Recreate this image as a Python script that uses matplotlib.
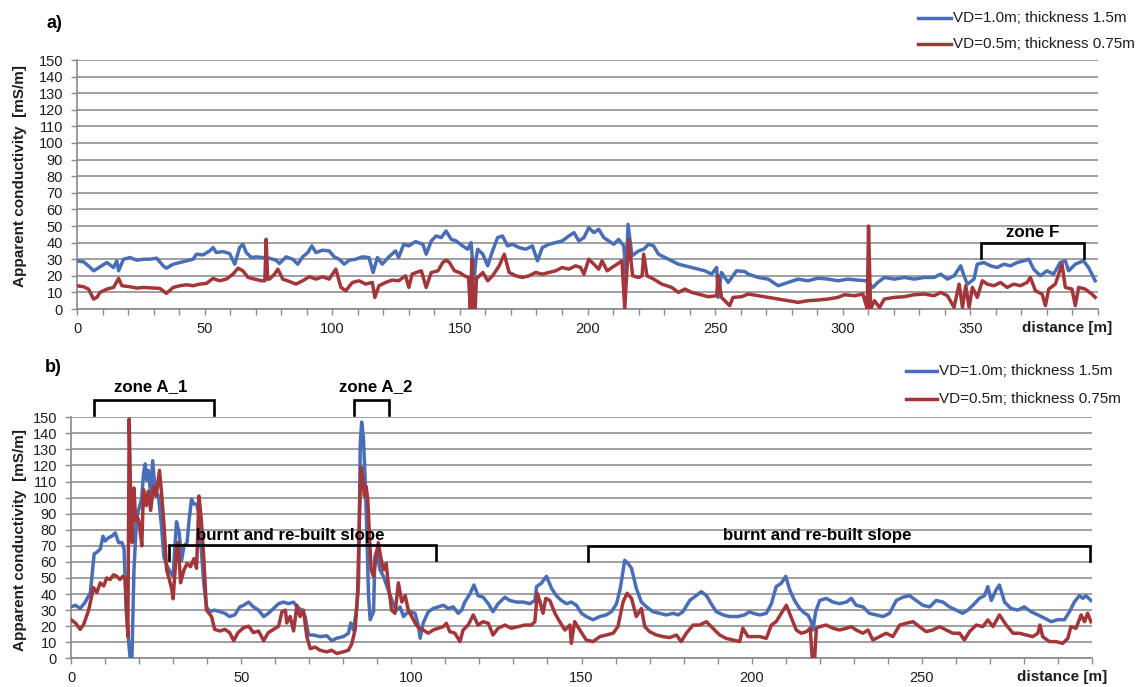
import matplotlib
matplotlib.use("Agg")
import matplotlib.pyplot as plt
from matplotlib.lines import Line2D

plt.rcParams['font.family'] = ['Liberation Sans', 'DejaVu Sans']

# ---------------- data ----------------
series_labels = ["VD=1.0m; thickness 1.5m", "VD=0.5m; thickness 0.75m"]
series_colors = ["#4A6EB6", "#A3363A"]

# panel a) distance [m] / apparent conductivity [mS/m]
a_blue_x = [0, 2.6, 5.2, 6.5, 9, 11.7, 14.3, 15.6, 16.3, 18.2, 20.8, 23.4, 26, 28.6, 31.2, 33.8, 35, 37.7,
            40.3, 43, 45.5, 46.8, 49.4, 52, 53.3, 54.6, 57.2, 59.8, 61.8, 63.7, 65, 66.3, 68.3, 70.2, 72.8,
            75.4, 78, 79.3, 81.9, 84.5, 86.5, 88.4, 90.4, 92, 93.6, 96.2, 98.8, 100.8, 102.7, 104.7, 106.6,
            109.2, 111.8, 114.4, 116, 117.7, 119.6, 122.2, 124.8, 126, 128, 130, 132.6, 135.5, 136.8, 138.8,
            140.7, 142.7, 144.6, 146.6, 148.5, 151.1, 153.1, 154.4, 155, 155.6, 156.3, 157, 159, 160.9, 162.8,
            164.8, 166.7, 168.7, 170.6, 173.2, 175.8, 178.4, 180.4, 182.3, 184.9, 187.5, 190.1, 192.7, 194.7,
            196.6, 198.6, 200.5, 202.5, 204.4, 206.4, 208.3, 210.3, 212.2, 214.2, 215.1, 215.9, 217.4, 220,
            222, 223.9, 225.9, 227.8, 230.4, 233, 235.6, 238.2, 240.8, 243.4, 246, 248.6, 250.6, 251.2, 252.5,
            255.1, 258.4, 261.6, 263, 266.9, 270.8, 274.7, 278.6, 282.5, 286.4, 290.3, 294.2, 298.1, 302,
            305.9, 309.2, 311.8, 313.7, 316.3, 320.2, 324.1, 328, 331.9, 335.8, 338.4, 341, 343.6, 346.2,
            347.5, 348.8, 351.4, 352.7, 355.3, 357.9, 360.5, 363.1, 365.7, 368.3, 370.9, 372.9, 374.8, 377.4,
            380, 382.6, 385.2, 387.2, 388.5, 391.1, 394.3, 396.3, 398.9]
a_blue_y = [29, 28.4, 25, 23, 25.4, 28, 25, 29, 23, 30, 31, 29.4, 30, 30, 30.6, 26, 24.6, 27,
            28, 29, 30, 33, 32.6, 35, 37, 34, 34.6, 33.4, 27, 37, 39, 34, 31, 31.4, 31,
            30.6, 29.4, 27.4, 31.4, 30, 27, 31.4, 34, 38, 34, 35.4, 35, 31.4, 30, 27, 29.4,
            30, 31.4, 31, 22, 31, 27, 31.4, 35, 31, 39, 38, 40.6, 39, 33, 41,
            44, 43, 47, 42, 41, 38, 36, 40, 28, 18, 30, 36, 33, 26, 35,
            43, 44, 38, 39, 37, 36, 38, 29, 37, 39, 40, 41, 44, 46,
            41, 43, 49, 46, 48, 43, 41, 39, 42, 38, 21, 51, 32, 35,
            36, 39, 38, 33, 31, 29, 27, 26, 25, 24, 23, 21, 25, 7, 22,
            16, 23, 22.6, 21, 19, 18, 14, 16, 18, 17, 18.6, 18, 17, 18,
            17.4, 17, 13, 16, 19, 18, 19, 18, 19, 19, 21, 18, 20, 26,
            20, 15, 18, 27, 28, 26, 25, 27, 26, 28, 29, 30, 24, 20,
            23, 21, 28, 29, 23, 27, 29, 25, 17]

a_red_x = [0, 2.6, 4.5, 6.5, 7.8, 9, 11.7, 14.3, 16.3, 17.6, 20.8, 23.4, 26, 29.9, 32.5, 35, 37.7, 40.3,
           43, 45.5, 48.1, 50.7, 53.3, 55.9, 58.5, 61.1, 63.1, 65, 67, 69.6, 72.2, 73.6, 74.1, 74.7, 75.4,
           77.4, 78.7, 80.6, 83.2, 85.8, 88.4, 91, 93.6, 96.2, 98.8, 101.4, 103.4, 105.3, 107.9, 110.5,
           113.1, 115.7, 116.7, 118.3, 120.9, 123.5, 126, 128.7, 130, 131.3, 132.9, 134.9, 136.8, 138.8,
           141.4, 143.3, 144.6, 145.9, 147.9, 149.8, 151.8, 153.4, 154.1, 154.7, 155.3, 156, 156.5, 157,
           159, 160.9, 162.8, 165.4, 167.4, 169.3, 171.9, 174.5, 177.1, 179.7, 182.3, 184.9, 187.5, 190.1,
           192.7, 195.3, 197.3, 198.6, 200.5, 202.5, 204.4, 205.7, 207.7, 209.6, 211.6, 213.5, 214.6,
           215.3, 216.1, 217.7, 220, 221.4, 222, 223.3, 225.9, 229.1, 233, 235.6, 238.2, 240.8, 243.4,
           247.3, 250.6, 251.2, 252.5, 255.7, 257, 260.3, 263, 266.9, 270.8, 274.7, 278.6, 282.5, 286.4,
           290.3, 294.2, 298.1, 300.7, 304.6, 307.9, 309.6, 310.1, 310.9, 312.4, 314.4, 316.3, 320.2,
           324.1, 328, 331.9, 335.8, 338.4, 341, 343.6, 345.6, 346.9, 348.2, 349.5, 350.8, 352.7, 354.7,
           356.6, 359.2, 361.8, 364.4, 367, 369.6, 372.2, 373.5, 375.5, 378.1, 379.4, 380.7, 383.3,
           385.9, 387.2, 389.8, 391.1, 392.4, 395, 397.6, 398.9]
a_red_y = [14, 13.4, 12, 6, 7, 10, 12, 13, 18.4, 14, 13.4, 12.6, 13, 12.6, 12.4, 9.4, 13, 14,
           14.6, 14, 15, 15.4, 18.4, 17, 18, 21, 24.6, 23, 19, 18, 17, 17, 42, 18, 18,
           21, 24, 18, 16.6, 15, 17, 19.4, 18, 19.4, 18, 24, 13, 11, 16, 17,
           15, 16, 7, 14, 16, 17.4, 17, 20, 13, 21, 22, 23, 13, 22,
           23, 28, 29.4, 28, 23, 22, 20, 19, 0, 30, 0, 0, 19, 19,
           22, 17, 20, 26, 33, 22, 20, 19, 20, 22, 21, 22, 23, 25,
           24, 26, 25, 21, 30, 27, 24, 29, 23, 25, 27, 29, 0,
           20, 42, 20, 19, 20, 33, 20, 18, 15, 13, 10, 12, 10, 9,
           7.4, 8, 20, 7, 2, 7, 7.4, 9, 8, 7, 6, 5, 4, 5,
           5.4, 6, 7, 8.6, 8, 9, 0, 50, 0, 5, 1, 6, 7,
           7.4, 8.6, 9, 8, 10, 8, 1, 15, 1, 14, 1, 13, 7, 17,
           15, 14, 16, 13, 15, 14, 16, 19, 11, 9, 2, 12, 15,
           27, 13, 12, 2, 13, 12, 9, 7]

# panel b)
b_blue_x = [0, 1.3, 2.7, 4.2, 5.7, 6.8, 7.6, 8.6, 9.4, 10, 11, 12, 13, 14, 15, 15.6, 16.2, 16.9, 17.4,
            17.9, 18.5, 19.3, 20.1, 20.8, 21.3, 21.8, 22.2, 22.7, 23.4, 24, 24.7, 25.7, 26.6, 27.3, 28.1,
            29.1, 30, 31, 31.8, 32.5, 33.2, 34.1, 34.7, 35.4, 36.1, 36.9, 37.6, 38.3, 39, 39.8, 40.8, 42.2,
            43.7, 45.2, 46.6, 48.1, 49.6, 50.7, 52.2, 53.6, 55.1, 56.6, 58, 59.5, 61, 62.4, 63.9, 65.4,
            66.4, 67.8, 68.8, 69.8, 71.2, 73.2, 75.2, 76.6, 78.1, 80, 81.5, 82.2, 83, 84, 84.5, 85, 85.4,
            85.9, 86.4, 86.9, 87.4, 87.9, 88.9, 89.3, 89.8, 90.8, 91.8, 92.8, 93.8, 94.7, 95.7, 96.7, 97.7,
            98.6, 99.6, 101.1, 102.1, 102.6, 103.5, 105, 106.4, 107.9, 109.4, 110.8, 112.3, 113.8, 114.8,
            115.7, 117.2, 118.4, 119.6, 121.1, 122.6, 124, 125.5, 127.5, 128.9, 130.9, 132.9, 134.8, 136.3,
            136.8, 138.2, 139.7, 141.2, 142.6, 144.1, 145.6, 147, 148.5, 150, 151.4, 153.4, 155.4, 157.3,
            158.8, 160.3, 161.4, 162.7, 163.7, 164.7, 166.1, 167.6, 169.1, 171, 173, 174.9, 176.9, 178.4,
            179.8, 181.8, 183.7, 185.2, 186.7, 188.1, 189.6, 191.6, 193.5, 196, 197.9, 199.4, 200.4, 202.4,
            204.3, 205.8, 207.2, 208.7, 210, 211.2, 212.6, 214.1, 215.6, 216.5, 217.5, 218, 218.8, 220,
            221.9, 223.9, 225.8, 227.8, 229.3, 230.7, 232.7, 234.6, 236.6, 238.6, 240.5, 242.5, 244.4,
            246.4, 248.3, 250.3, 252.3, 254.2, 256.2, 258.1, 260.1, 262, 263.5, 265, 266.9, 268.4, 269.4,
            270.4, 271.8, 272.8, 274.3, 276.2, 278.2, 280.1, 282.1, 284.1, 286, 288, 289.9, 291.9, 293.4,
            294.8, 296.3, 297.3, 298.2, 299.7]
b_blue_y = [32, 33, 31, 35, 41, 65, 66, 68, 76, 73, 75, 76, 78, 72, 72, 68, 30, 11, 0,
            0, 55, 88, 94, 100, 115, 121, 111, 117, 103, 123, 105, 101, 82, 63, 58,
            54, 51, 85, 78, 61, 70, 72, 86, 99, 96, 96, 90, 67, 47, 32, 29, 30,
            29, 28, 26, 27, 32, 33, 35, 32, 30, 26, 28, 31, 34, 35, 34, 35,
            32, 30, 26, 14.5, 14.5, 13.5, 14, 11, 12.5, 13.5, 15.5, 22, 17.6, 32, 47, 134, 147,
            138, 113, 80, 40, 24, 29, 63, 67, 55, 51, 45, 39, 34, 30, 32, 26,
            28, 29, 28, 20, 12.5, 22, 29, 31, 32, 33, 31, 32, 28, 30,
            35, 40, 45.6, 39, 38, 34, 29, 34, 38, 36, 35, 35, 34, 36,
            44.6, 46.7, 51, 43.6, 39, 36, 34, 35, 33, 28, 26, 24, 26, 27,
            29, 34, 43.6, 61, 59, 56, 43.6, 35, 32, 29, 28, 27, 28, 27,
            29, 36, 39, 41.5, 39, 34, 29, 27, 26, 26, 27, 29, 28, 27,
            28, 34, 44.6, 46.7, 51, 42.5, 36, 31, 28, 27, 22.8, 17.6, 29, 36,
            37.3, 35, 34, 35, 37.3, 33, 32, 28, 27, 26, 28, 36, 38,
            39, 36, 33, 32, 36, 35, 32, 30, 28, 30, 33, 37.3, 39, 44.6,
            36, 42.5, 45.6, 35, 31, 30, 32, 29, 27, 25, 22.8, 24, 24, 29,
            35, 39, 37.3, 39, 36]

b_red_x = [0, 1.3, 2.7, 3.7, 5.2, 6.6, 7.6, 8.6, 9.6, 10.5, 11.5, 12.5, 13.5, 14.4, 15.2, 15.9, 16.4,
           16.7, 17.1, 17.6, 18, 18.5, 19, 19.5, 20.1, 20.8, 21.3, 22.1, 22.7, 23.4, 24.2, 25, 26, 26.6,
           27.3, 28.1, 28.9, 29.6, 30, 31, 31.5, 32.2, 33.2, 34.1, 35.1, 36.1, 36.9, 37.6, 38.3, 39, 39.8,
           41.3, 42.2, 43.7, 45.2, 46.6, 47.8, 49.1, 50.7, 52.2, 53.6, 55.1, 56.6, 58, 59.5, 61, 62, 63,
           63.4, 64.4, 65.4, 66.4, 67.3, 68.3, 69.3, 70.3, 71.7, 73.2, 75.2, 76.6, 78.1, 80, 81.5, 82.5,
           83.5, 84.2, 84.8, 85.2, 85.7, 86.2, 86.7, 87.2, 87.7, 88.2, 88.9, 89.6, 90.3, 91, 91.8, 92.6,
           93.3, 94.2, 95.2, 96.2, 97.2, 98.2, 99.1, 100.1, 101.1, 102.1, 103.5, 105, 106.4, 107.9, 109.4,
           110.3, 111.3, 112.8, 114.3, 115.2, 116.7, 118.2, 119.6, 121.1, 122.6, 124, 125.5, 127.5, 129.4,
           131.4, 133.3, 135.3, 136.3, 137, 137.7, 138.7, 139.5, 140.7, 142.2, 143.6, 145.1, 146.6, 147,
           148, 149.5, 151.4, 153.4, 155.4, 157.3, 159.3, 160.7, 162.2, 163.4, 164.7, 166.1, 167.6, 168.6,
           170, 172, 174, 175.9, 177.9, 179.3, 180.8, 182.8, 184.7, 186.7, 188.6, 190.6, 192.5, 194.5,
           196.5, 197.4, 198.9, 200.4, 202.4, 204.3, 205.8, 207.2, 208.7, 210.2, 211.7, 213.1, 214.6,
           216.1, 217.2, 217.8, 218.5, 219, 220, 221.9, 223.9, 225.8, 227.8, 229.3, 230.7, 232.7, 234.2,
           235.6, 237.6, 239.5, 241.5, 243.5, 245.4, 247.4, 249.3, 251.3, 253.2, 255.2, 257.2, 259.1,
           261.1, 262.5, 264, 266, 267.9, 269.4, 270.9, 272.8, 274.8, 276.8, 278.7, 280.6, 282.6, 284.1,
           284.7, 285.5, 287.5, 289.4, 291.4, 292.9, 293.8, 295.3, 296.8, 297.8, 298.7, 299.7]
b_red_y = [24, 22, 18, 21, 30, 44, 41, 47, 45, 50, 49, 52, 51, 49, 51, 50, 30,
           13.5, 149, 92, 72, 106, 86, 88, 84, 70, 105, 95, 104, 92, 107, 101, 117, 103,
           84, 55, 49, 43, 37, 67, 72, 47, 55, 59, 57, 62, 56, 101, 86, 63, 30,
           26, 18, 17, 18, 16, 11, 16, 19, 20, 16, 17, 11, 16, 18, 20, 29, 30,
           22, 26, 17, 33, 26, 30, 13.5, 6, 7, 5, 4, 5, 3, 4, 5, 9,
           18, 40, 92, 119, 113, 101, 107, 99, 76, 55, 51, 63, 72, 63, 55, 59,
           45, 30, 28, 47, 35, 39, 30, 26, 22, 19, 17.6, 15.6, 17.6, 18.7, 19.7,
           21.8, 16.6, 15.6, 10.4, 17.6, 20.7, 27, 20.7, 22.8, 21.8, 14.5, 18.7, 20.7, 18.7,
           19.7, 20.7, 20.7, 22.8, 40.5, 36, 28, 37.3, 36, 28, 22.8, 17.6, 20.7, 9.3,
           22.8, 17.6, 11.4, 10.4, 13.5, 14.5, 15.6, 19.7, 35, 40.5, 37.3, 26, 31, 19.7,
           16.6, 14.5, 13.5, 12.9, 14.5, 10.4, 15.6, 20.7, 20.7, 22.8, 18.7, 14.5, 12.4, 11.4,
           10.4, 18.7, 13.5, 13.5, 13.5, 12.4, 20.7, 22.8, 28, 33, 25, 17.6, 15.6,
           16.6, 18.7, 0, 0, 18.7, 19.7, 20.7, 18.7, 17.6, 18.7, 19.7, 17.6, 15.6, 17.6,
           11.4, 13.5, 15.6, 13.5, 20.7, 21.8, 22.8, 19.7, 16.6, 17.6, 19.7, 17.6, 15.6,
           15.6, 11.4, 16.6, 20.7, 19.7, 23.9, 19.7, 27, 20.7, 15.6, 15.6, 14.5, 13.5, 15.6,
           20.7, 13.5, 10.4, 10.4, 9.3, 12.4, 19.7, 18.7, 27, 22.8, 28, 22.8]

y_ticks = list(range(0, 151, 10))
a_xmax = 400
b_xmax = 300
a_xtick_labels = ["0", "50", "100", "150", "200", "250", "300", "350"]
b_xtick_labels = ["0", "50", "100", "150", "200", "250"]
ylabel_text = "Apparent conductivity  [mS/m]"
xlabel_text = "distance [m]"

# annotations: (label, x_start, x_end, y_top, y_bottom, text_x, text_y)
a_brackets = [("zone F", 354, 394.4, 39.8, 30.7, 374.2, 46)]
b_brackets = [("zone A_1", 6.8, 42, 161, 151.5, 23.5, 169),
              ("zone A_2", 83.2, 93.5, 161, 151.5, 89.5, 169),
              ("burnt and re-built slope", 28.8, 107.3, 70.5, 61, 64.5, 76.5),
              ("burnt and re-built slope", 151.8, 299.3, 70.0, 60.5, 219.2, 76.5)]

# ---------------- figure ----------------
W, H = 1145, 687
fig = plt.figure(figsize=(W / 100, H / 100), dpi=100)


def fx(px):
    return px / W


def fy(py):
    return 1 - py / H


ax_a = fig.add_axes([fx(77), fy(309), fx(1098) - fx(77), fy(60) - fy(309)])
ax_b = fig.add_axes([fx(71), fy(658.3), fx(1092) - fx(71), fy(417.3) - fy(658.3)])

GRID = "#A0A0A0"
AXC = "#8A8A8A"
TXT = "#1E1E1E"


def style(ax, xmax, labels):
    ax.set_xlim(0, xmax)
    ax.set_ylim(0, 150)
    ax.set_yticks(y_ticks)
    ax.set_yticklabels([str(v) for v in y_ticks])
    ticks = list(range(0, xmax + 1, 10))
    ax.set_xticks(ticks)
    lab_map = {int(l): l for l in labels}
    ax.set_xticklabels([lab_map.get(t, "") for t in ticks])
    ax.yaxis.grid(True, color=GRID, lw=1.4)
    ax.xaxis.grid(False)
    ax.set_axisbelow(True)
    for s in ("top", "right"):
        ax.spines[s].set_visible(False)
    for s in ("left", "bottom"):
        ax.spines[s].set_color(AXC)
        ax.spines[s].set_linewidth(1.2)
    ax.tick_params(axis="both", direction="out", length=4, width=1.0, colors=AXC,
                   labelcolor=TXT, labelsize=10.5)
    ax.tick_params(axis="y", pad=6)
    ax.tick_params(axis="x", pad=5)
    ax.set_facecolor("white")


style(ax_a, a_xmax, a_xtick_labels)
style(ax_b, b_xmax, b_xtick_labels)

LW = 2.5
ax_a.plot(a_blue_x, a_blue_y, color=series_colors[0], lw=LW, solid_joinstyle="round", zorder=3)
ax_a.plot(a_red_x, a_red_y, color=series_colors[1], lw=LW, solid_joinstyle="round", zorder=3)
ax_b.plot(b_blue_x, b_blue_y, color=series_colors[0], lw=LW, solid_joinstyle="round", zorder=3)
ax_b.plot(b_red_x, b_red_y, color=series_colors[1], lw=LW, solid_joinstyle="round", zorder=4)


def draw_brackets(ax, items):
    for lab, x0, x1, yt, yb, tx, ty in items:
        ax.plot([x0, x0, x1, x1], [yb, yt, yt, yb], color="black", lw=1.9,
                clip_on=False, solid_joinstyle="miter", zorder=6)
        ax.text(tx, ty, lab, ha="center", va="center", fontsize=12.2,
                fontweight="bold", color="black", clip_on=False, zorder=7)


draw_brackets(ax_a, a_brackets)
draw_brackets(ax_b, b_brackets)

# y labels
fig.text(fx(20), fy(176), ylabel_text, rotation=90, ha="center", va="center",
         fontsize=11, fontweight="bold", color=TXT)
fig.text(fx(20), fy(540), ylabel_text, rotation=90, ha="center", va="center",
         fontsize=11, fontweight="bold", color=TXT)

# x labels
fig.text(fx(1067), fy(328), xlabel_text, ha="center", va="center",
         fontsize=11, fontweight="bold", color=TXT)
fig.text(fx(1062), fy(677), xlabel_text, ha="center", va="center",
         fontsize=11, fontweight="bold", color=TXT)

# panel letters
fig.text(fx(54), fy(23), "a)", ha="center", va="center", fontsize=13, fontweight="bold", color="black")
fig.text(fx(53), fy(368), "b)", ha="center", va="center", fontsize=13, fontweight="bold", color="black")


# legends
def legend(x0, x1, rows):
    for (py, lab, col) in rows:
        fig.add_artist(Line2D([fx(x0), fx(x1)], [fy(py), fy(py)], color=col, lw=LW,
                              transform=fig.transFigure))
        fig.text(fx(x1 + 2), fy(py), lab, ha="left", va="center", fontsize=11, color=TXT)


legend(918, 951, [(17.5, series_labels[0], series_colors[0]), (44.3, series_labels[1], series_colors[1])])
legend(906, 937, [(371, series_labels[0], series_colors[0]), (399, series_labels[1], series_colors[1])])

fig.savefig("out.png", dpi=100, facecolor="white")
